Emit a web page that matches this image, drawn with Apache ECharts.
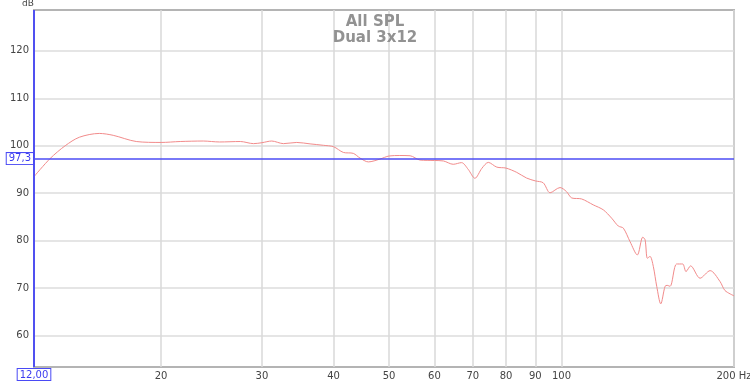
<!DOCTYPE html>
<html>
<head>
<meta charset="utf-8">
<script src="https://cdn.jsdelivr.net/npm/echarts@6/dist/echarts.min.js"></script>
<style>
  html, body { margin: 0; padding: 0; background: #fff; }
  #chart { width: 750px; height: 383px; }
</style>
</head>
<body>
<div id="chart"></div>
<script>
const freqs = [12, 12.8, 13.6, 14.4, 15.6, 16.5, 18.1, 20, 21.6, 23.7, 25.3, 27.5, 29, 30,
    31.2, 32.7, 34.5, 36.4, 38.4, 40, 41.6, 43.3, 44.5, 46, 48.2, 50, 52.2, 54.4, 56.6, 60,
    62.2, 64.7, 66.9, 68.7, 70.6, 72.6, 74.5, 77.1, 80, 83.5, 86.9, 90, 92.9, 95.5, 99.4,
    102, 104.2, 108.4, 113.6, 118.3, 122.3, 125.6, 128.2, 131.7, 135.6, 138.6, 139.9, 141.2,
    142.7, 144.6, 146.6, 149, 151.6, 152.8, 154.7, 158.8, 162.7, 164.9, 168, 174.5, 181.7,
    189.1, 192.9, 200];
const spl = [93.5, 97.3, 100.0, 101.8, 102.6, 102.2, 100.9, 100.7, 100.9, 101.0, 100.8, 100.9, 100.45, 100.65,
    101.0, 100.45, 100.7, 100.4, 100.1, 99.8, 98.6, 98.4, 97.4, 96.6, 97.2, 97.85, 97.95, 97.9, 97.0, 96.9,
    96.8, 96.1, 96.45, 95.05, 93.15, 95.25, 96.5, 95.5, 95.3, 94.4, 93.2, 92.6, 92.2, 90.1, 91.2,
    90.35, 89.0, 88.8, 87.55, 86.5, 84.75, 83.1, 82.65, 79.8, 77.0, 80.75, 80.2, 76.3,
    76.7, 74.6, 70.4, 66.7, 70.4, 70.6, 70.4, 75.1, 75.1, 73.5, 74.7, 72.1, 73.7,
    71.4, 69.5, 68.4];

const xTicks = [20, 30, 40, 50, 60, 70, 80, 90, 100, 200];
const yTicks = [60, 70, 80, 90, 100, 110, 120];
const cursorFreq = 12;
const cursorLevel = 97.3;
const titleLines = ['All SPL', 'Dual 3x12'];

const chart = echarts.init(document.getElementById('chart'), null, { renderer: 'canvas' });

const boxLabel = {
    color: '#3b3bf0',
    fontSize: 10,
    fontFamily: 'DejaVu Sans',
    backgroundColor: '#fff',
    borderColor: '#4a4af5',
    borderWidth: 1,
    padding: [1, 2, 0, 2]
};

chart.setOption({
    animation: false,
    title: {
        text: titleLines.join('\n'),
        left: 'center',
        top: 9,
        textStyle: {
            color: '#929292',
            fontSize: 15,
            fontWeight: 'bold',
            fontFamily: 'DejaVu Sans',
            lineHeight: 16
        }
    },
    grid: {
        left: 34, right: 16, top: 10, bottom: 16,
        outerBoundsMode: 'none',
        containLabel: false,
        show: true,
        borderColor: '#b4b4b4',
        borderWidth: 2,
        backgroundColor: '#fff'
    },
    xAxis: {
        type: 'log',
        logBase: 10,
        min: 12,
        max: 200,
        axisLine: { show: false },
        axisTick: { show: false, customValues: xTicks },
        axisLabel: {
            customValues: xTicks,
            formatter: v => (v === 200 ? '200 Hz' : String(v)),
            color: '#444',
            fontSize: 10,
            fontFamily: 'DejaVu Sans',
            margin: 4
        },
        splitLine: { show: true, lineStyle: { color: '#d8d8d8', width: 1.5 } }
    },
    yAxis: {
        type: 'value',
        min: 53.4,
        max: 128.6,
        name: 'dB',
        nameLocation: 'end',
        nameGap: 2,
        nameTextStyle: { color: '#444', fontSize: 9, fontFamily: 'DejaVu Sans', align: 'right' },
        axisLine: { show: false },
        axisTick: { show: false, customValues: yTicks },
        axisLabel: {
            customValues: yTicks,
            color: '#444',
            fontSize: 10,
            fontFamily: 'DejaVu Sans',
            margin: 5
        },
        splitLine: { show: true, lineStyle: { color: '#dcdcdc', width: 1.5 } }
    },
    series: [{
        type: 'line',
        data: freqs.map((f, i) => [f, spl[i]]),
        showSymbol: false,
        smooth: 0.3,
        lineStyle: { color: '#f28b8b', width: 1 },
        markLine: {
            silent: true,
            symbol: 'none',
            animation: false,
            lineStyle: { color: '#4d4df5', width: 1.5, type: 'solid' },
            data: [
                {
                    yAxis: cursorLevel,
                    label: Object.assign({ position: 'start', distance: 1, formatter: '97,3' }, boxLabel)
                },
                {
                    xAxis: cursorFreq,
                    lineStyle: { width: 2, color: '#5050f0' },
                    label: Object.assign({ position: 'start', distance: 2, formatter: '12,00' }, boxLabel)
                }
            ]
        }
    }]
});
</script>
</body>
</html>
